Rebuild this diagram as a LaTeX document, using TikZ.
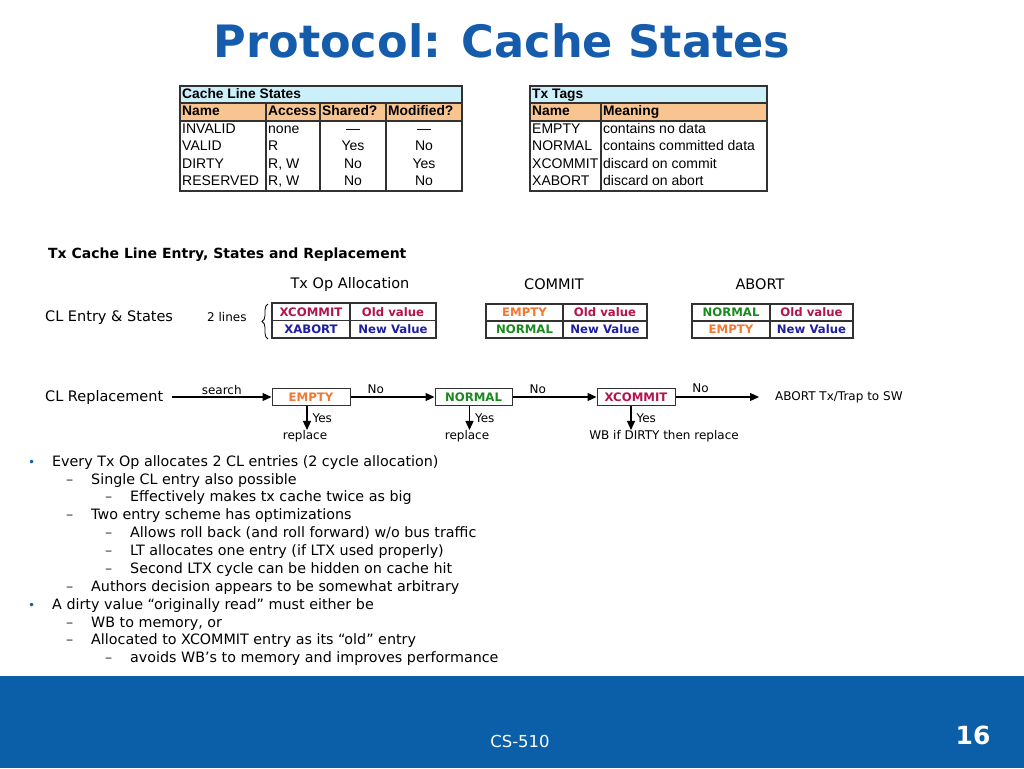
\documentclass[tikz,border=0pt]{standalone}
\usepackage{fontspec}
\setmainfont{DejaVu Sans}
\newfontfamily\arialf{Liberation Sans}
\usetikzlibrary{arrows.meta,decorations.pathreplacing}
\definecolor{titleblue}{RGB}{22,92,172}
\definecolor{footblue}{RGB}{10,95,168}
\definecolor{hdrcyan}{RGB}{204,240,250}
\definecolor{hdrorange}{RGB}{248,196,144}
\definecolor{crim}{RGB}{178,20,78}
\definecolor{navy}{RGB}{30,30,160}
\definecolor{orng}{RGB}{240,120,50}
\definecolor{grn}{RGB}{26,138,30}
\definecolor{gridc}{RGB}{50,50,50}
\begin{document}
\begin{tikzpicture}[x=1pt,y=-1pt,
  tcell/.style={font=\arialf\fontsize{14}{16}\selectfont, inner sep=0pt, anchor=west, text height=10pt, text depth=3pt},
  tcellc/.style={tcell, anchor=center},
  thdr/.style={font=\arialf\bfseries\fontsize{13.8}{16}\selectfont, inner sep=0pt, anchor=west, text height=10pt, text depth=3pt},
  grid/.style={draw=gridc, line width=1.1pt},
  lbl/.style={font=\fontsize{14.5}{16}\selectfont, inner sep=0pt},
  small/.style={font=\fontsize{12}{14}\selectfont, inner sep=0pt},
  tag/.style={font=\bfseries\fontsize{11.7}{13}\selectfont, inner sep=0pt},
  fbox/.style={draw=gridc, line width=1pt, minimum width=78pt, minimum height=17pt, inner sep=0pt, font=\bfseries\fontsize{11.7}{13}\selectfont},
  arr/.style={line width=1.1pt, -{Triangle[length=9pt,width=8pt]}},
  blt/.style={font=\fontsize{14.3}{16}\selectfont, inner sep=0pt, anchor=west, text height=10.5pt, text depth=3pt},
]
\useasboundingbox (0,0) rectangle (1024,768);
\fill[white] (0,0) rectangle (1024,768);
% title
\node[font=\bfseries\fontsize{44.6}{50}\selectfont, text=titleblue, inner sep=0pt, anchor=base] (title) at (502,57) {Protocol: Cache States};
% footer
\fill[footblue] (0,676) rectangle (1024,768);
\node[font=\fontsize{16.5}{18}\selectfont, text=white, inner sep=0pt] (foot) at (520,741) {CS-510};
\node[font=\bfseries\fontsize{25}{28}\selectfont, text=white, inner sep=0pt] (pnum) at (973,735) {16};

% ---------- Table 1 ----------
\fill[hdrcyan] (180,86) rectangle (462,103);
\fill[hdrorange] (180,103) rectangle (462,121);
\draw[grid] (180,86) rectangle (462,191);
\draw[grid] (180,103) -- (462,103);
\draw[grid] (180,121) -- (462,121);
\foreach \cx in {266,320,386} \draw[grid] (\cx,103) -- (\cx,191);
\node[thdr] (t1h) at (182,94.5) {Cache Line States};
\node[thdr] (t1n) at (182,112) {Name};
\node[thdr] (t1a) at (268,112) {Access};
\node[thdr] (t1s) at (322,112) {Shared?};
\node[thdr] (t1m) at (388,112) {Modified?};
\node[tcell] (t1r1a) at (182,129.5) {INVALID};
\node[tcell] (t1r1b) at (268,129.5) {none};
\node[tcellc] (t1r1c) at (353,129.5) {—};
\node[tcellc] (t1r1d) at (424,129.5) {—};
\node[tcell] (t1r2a) at (182,147) {VALID};
\node[tcell] (t1r2b) at (268,147) {R};
\node[tcellc] (t1r2c) at (353,147) {Yes};
\node[tcellc] (t1r2d) at (424,147) {No};
\node[tcell] (t1r3a) at (182,164.5) {DIRTY};
\node[tcell] (t1r3b) at (268,164.5) {R, W};
\node[tcellc] (t1r3c) at (353,164.5) {No};
\node[tcellc] (t1r3d) at (424,164.5) {Yes};
\node[tcell] (t1r4a) at (182,182) {RESERVED};
\node[tcell] (t1r4b) at (268,182) {R, W};
\node[tcellc] (t1r4c) at (353,182) {No};
\node[tcellc] (t1r4d) at (424,182) {No};

% ---------- Table 2 ----------
\fill[hdrcyan] (530,86) rectangle (767,103);
\fill[hdrorange] (530,103) rectangle (767,121);
\draw[grid] (530,86) rectangle (767,191);
\draw[grid] (530,103) -- (767,103);
\draw[grid] (530,121) -- (767,121);
\draw[grid] (601,103) -- (601,191);
\node[thdr] (t2h) at (532,94.5) {Tx Tags};
\node[thdr] (t2n) at (532,112) {Name};
\node[thdr] (t2m) at (603,112) {Meaning};
\node[tcell] (t2r1a) at (532,129.5) {EMPTY};
\node[tcell] (t2r1b) at (603,129.5) {contains no data};
\node[tcell] (t2r2a) at (532,147) {NORMAL};
\node[tcell] (t2r2b) at (603,147) {contains committed data};
\node[tcell] (t2r3a) at (532,164.5) {XCOMMIT};
\node[tcell] (t2r3b) at (603,164.5) {discard on commit};
\node[tcell] (t2r4a) at (532,182) {XABORT};
\node[tcell] (t2r4b) at (603,182) {discard on abort};

% ---------- Section heading ----------
\node[font=\bfseries\fontsize{14}{16}\selectfont, inner sep=0pt, anchor=west] (sec) at (48,255) {Tx Cache Line Entry, States and Replacement};
\node[lbl] (hop) at (350,284) {Tx Op Allocation};
\node[lbl] (hcm) at (554,284) {COMMIT};
\node[lbl] (hab) at (760,284) {ABORT};
\node[lbl, anchor=west] (cles) at (45,318) {CL Entry \& States};
\node[small, anchor=west] (twol) at (207,317) {2 lines};
\draw[line width=0.8pt, decorate, decoration={brace, amplitude=6pt}] (268,339) -- (268,304);

% entry tables
\draw[grid] (272,303) rectangle (436,338);
\draw[grid] (272,320.5) -- (436,320.5);
\draw[grid] (350,303) -- (350,338);
\node[tag, text=crim] (e1a) at (311,312) {XCOMMIT};
\node[tag, text=crim] (e1b) at (393,312) {Old value};
\node[tag, text=navy] (e1c) at (311,329.5) {XABORT};
\node[tag, text=navy] (e1d) at (393,329.5) {New Value};

\draw[grid] (486,304) rectangle (647,338);
\draw[grid] (486,321) -- (647,321);
\draw[grid] (563,304) -- (563,338);
\node[tag, text=orng] (e2a) at (524.5,312.5) {EMPTY};
\node[tag, text=crim] (e2b) at (605,312.5) {Old value};
\node[tag, text=grn] (e2c) at (524.5,329.5) {NORMAL};
\node[tag, text=navy] (e2d) at (605,329.5) {New Value};

\draw[grid] (692,304) rectangle (853,338);
\draw[grid] (692,321) -- (853,321);
\draw[grid] (770,304) -- (770,338);
\node[tag, text=grn] (e3a) at (731,312.5) {NORMAL};
\node[tag, text=crim] (e3b) at (811.5,312.5) {Old value};
\node[tag, text=orng] (e3c) at (731,329.5) {EMPTY};
\node[tag, text=navy] (e3d) at (811.5,329.5) {New Value};

% ---------- Replacement flow ----------
\node[lbl, anchor=west] (clr) at (45,397) {CL Replacement};
\coordinate (s0) at (172,397);
\node[fbox, text=orng] (fe) at (311,397) {EMPTY};
\node[fbox, minimum width=77pt, text=grn] (fn) at (473.5,397) {NORMAL};
\node[fbox, text=crim] (fx) at (636,397) {XCOMMIT};
\node[small, anchor=west] (abt) at (775,397) {ABORT Tx/Trap to SW};
\draw[arr] (s0) -- (fe.west) node[small, midway, above=2pt] (lsearch) {search};
\draw[arr] (fe.east) -- (fn.west) node[small, pos=0.3, above=3pt] (lno1) {No};
\draw[arr] (fn.east) -- (fx.west) node[small, pos=0.3, above=3pt] (lno2) {No};
\draw[arr] (fx.east) -- ([xshift=-16pt]abt.west) node[small, pos=0.3, above=4pt] (lno3) {No};

\node[small] (rp1) at (305,436) {replace};
\node[small] (rp2) at (467,436) {replace};
\node[small] (rp3) at (664,436) {WB if DIRTY then replace};
\draw[arr] ([xshift=-4pt]fe.south) -- ([xshift=-4pt]fe.south |- rp1.north) node[small, midway, anchor=west, xshift=5pt] (ly1) {Yes};
\draw[arr] ([xshift=-4pt]fn.south) -- ([xshift=-4pt]fn.south |- rp2.north) node[small, midway, anchor=west, xshift=5pt] (ly2) {Yes};
\draw[arr] ([xshift=-5pt]fx.south) -- ([xshift=-5pt]fx.south |- rp3.north) node[small, midway, anchor=west, xshift=5pt] (ly3) {Yes};

% ---------- Bullets ----------
\newcommand{\lvA}{\makebox[25pt][l]{\hspace{1pt}\textcolor{titleblue}{\fontsize{12}{12}\selectfont •}}}
\newcommand{\lvB}{\makebox[25pt][l]{\textcolor{gridc}{–}}}
\node[blt] (b1) at (27,463) {\lvA Every Tx Op allocates 2 CL entries (2 cycle allocation)};
\node[blt] (b2) at (66,481) {\lvB Single CL entry also possible};
\node[blt] (b3) at (105,498) {\lvB Effectively makes tx cache twice as big};
\node[blt] (b4) at (66,516) {\lvB Two entry scheme has optimizations};
\node[blt] (b5) at (105,534) {\lvB Allows roll back (and roll forward) w/o bus traffic};
\node[blt] (b6) at (105,552) {\lvB LT allocates one entry (if LTX used properly)};
\node[blt] (b7) at (105,570) {\lvB Second LTX cycle can be hidden on cache hit};
\node[blt] (b8) at (66,588) {\lvB Authors decision appears to be somewhat arbitrary};
\node[blt] (b9) at (27,606) {\lvA A dirty value “originally read” must either be};
\node[blt] (b10) at (66,624) {\lvB WB to memory, or};
\node[blt] (b11) at (66,641) {\lvB Allocated to XCOMMIT entry as its “old” entry};
\node[blt] (b12) at (105,659) {\lvB avoids WB’s to memory and improves performance};
\end{tikzpicture}
\end{document}
